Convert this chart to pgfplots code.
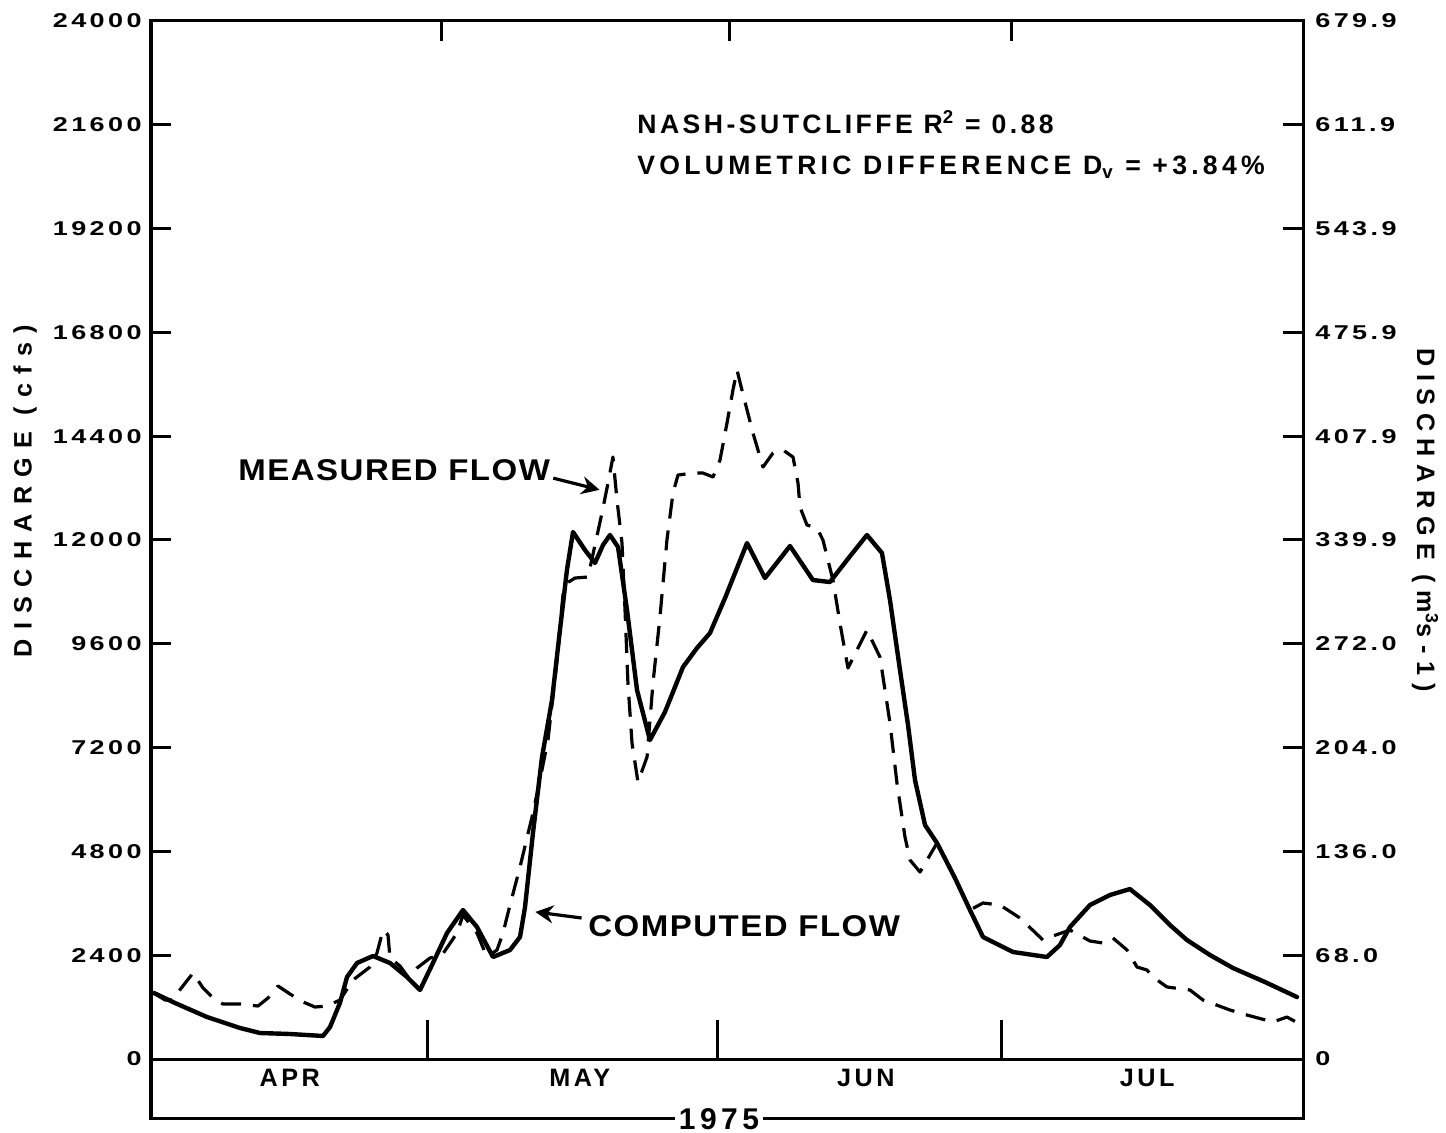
\documentclass[border=0pt]{standalone}
\usepackage{pgfplots}
\pgfplotsset{compat=1.18}
\usepackage{fontspec}
\setmainfont{Liberation Sans}
\newfontfamily\fTick{Liberation Sans}[LetterSpace=17, FakeStretch=1.35]
\newfontfamily\fMonth{Liberation Sans}[LetterSpace=14]
\newfontfamily\fLab{Liberation Sans}[LetterSpace=37]
\newfontfamily\fLabR{Liberation Sans}[LetterSpace=30]
\newfontfamily\fAnn{Liberation Sans}[LetterSpace=5, FakeStretch=1.1]
\newfontfamily\fStat{Liberation Sans}[LetterSpace=13]
\newfontfamily\fStatB{Liberation Sans}[LetterSpace=16]
\newfontfamily\fYear{Liberation Sans}[LetterSpace=15]
\usetikzlibrary{arrows.meta}
\begin{document}
\begin{tikzpicture}
\useasboundingbox (-75.5bp,-7.5bp) rectangle (647.5bp,559bp);
\begin{axis}[
  scale only axis, width=576bp, height=548.5bp,
  xmin=0, xmax=122, ymin=-1364, ymax=24000,
  axis line style={line width=1.5bp},
  tick style={line width=1.5bp, black},
  tick align=inside, major tick length=10bp,
  ytick={0,2400,4800,7200,9600,12000,14400,16800,19200,21600,24000},
  yticklabels={0,2400,4800,7200,9600,12000,14400,16800,19200,21600,24000},
  ytick pos=left,
  yticklabel style={font=\fontsize{10bp}{12bp}\selectfont\fTick\bfseries, inner xsep=4.5bp, inner ysep=0pt, anchor=east},
  xtick={14.7,45.4,75.7,105.5},
  xticklabels={APR,MAY,JUN,JUL},
  xtick pos=left,
  xtick style={draw=none},
  xticklabel style={font=\fontsize{12.6bp}{14bp}\selectfont\fMonth\bfseries, anchor=center, yshift=20bp},
]
\draw[line width=1.5bp] (axis cs:0,0) -- (axis cs:122,0);
\draw[line width=1.5bp] (axis cs:29.3,0) -- ++(0,-10bp);
\draw[line width=1.5bp] (axis cs:60.0,0) -- ++(0,-10bp);
\draw[line width=1.5bp] (axis cs:90.1,0) -- ++(0,-10bp);

% computed flow
\addplot[black, line width=2.2bp, line join=round, line cap=round] coordinates {
(0.32,1526)(2.54,1295)(5.93,971)(9.42,717)(11.54,601)(14.72,578)(18.22,532)(18.96,740)(20.01,1295)(20.76,1896)(21.82,2220)(23.51,2381)(25.31,2220)(27.11,1896)(28.49,1595)(29.86,2220)(31.35,2913)(33.04,3445)(34.52,3052)(36.22,2358)(38.02,2520)(39.08,2821)(39.61,3514)(40.45,5225)(41.41,6982)(42.47,8300)(43.31,9918)(44.05,11306)(44.69,12184)(45.96,11768)(47.02,11468)(47.87,11884)(48.61,12115)(49.46,11837)(50.41,10381)(51.47,8531)(52.84,7375)(54.43,8023)(56.34,9063)(57.82,9502)(59.20,9849)(60.79,10658)(63.12,11930)(65.02,11121)(67.67,11861)(70.10,11074)(71.90,11028)(73.71,11537)(75.82,12115)(77.41,11699)(78.26,10612)(79.32,8994)(80.17,7722)(80.91,6450)(81.97,5410)(83.24,4994)(85.14,4185)(86.73,3445)(88.11,2821)(91.29,2474)(94.88,2358)(96.26,2636)(97.32,3052)(99.44,3560)(101.56,3792)(103.67,3930)(105.79,3560)(107.91,3098)(109.71,2751)(112.15,2404)(114.58,2104)(117.97,1780)(121.36,1433)
};
% measured flow
\addplot[black, line width=1.6bp, dash pattern=on 10bp off 6bp, line join=round] coordinates {
(0.32,1526)(1.48,1364)(2.22,1364)(4.45,1988)(5.51,1642)(6.57,1410)(7.62,1272)(9.42,1272)(11.33,1225)(12.39,1410)(13.45,1688)(14.72,1503)(16.10,1318)(17.37,1202)(18.64,1225)(20.01,1364)(21.39,1826)(23.19,2127)(23.93,2451)(24.57,2982)(25.10,2867)(25.31,2335)(26.37,2150)(27.22,1896)(28.17,2104)(29.55,2335)(30.82,2404)(32.41,2913)(33.04,3329)(34.52,2913)(35.58,2358)(36.64,2520)(37.28,2913)(38.02,3560)(39.08,4439)(40.35,5595)(41.19,6450)(42.04,7375)(43.00,9225)(43.63,10728)(44.05,11005)(44.90,11121)(46.28,11144)(47.76,12624)(48.40,13317)(48.92,13918)(49.35,12924)(49.88,11930)(50.20,10381)(50.51,8693)(50.94,7306)(51.57,6404)(52.53,6982)(53.16,8693)(53.90,10219)(54.64,12000)(55.28,13086)(55.81,13502)(57.40,13548)(58.46,13548)(59.52,13456)(60.26,13849)(61.00,14704)(61.63,15467)(62.06,15930)(62.58,15467)(63.75,14473)(64.81,13687)(65.87,14011)(66.93,14080)(67.99,13918)(68.52,13317)(68.73,12762)(69.47,12346)(70.53,12277)(71.16,12000)(71.69,11537)(72.22,11074)(72.96,10080)(73.81,9040)(75.82,9918)(77.20,9294)(77.73,8531)(78.26,7768)(79.00,6381)(79.85,5133)(80.38,4601)(81.44,4323)(83.24,4994)(85.14,4185)(86.73,3445)(88.11,3607)(89.91,3560)(92.03,3260)(94.46,2751)(95.52,2844)(97.32,2982)(99.44,2728)(100.82,2682)(101.87,2798)(103.36,2520)(104.42,2127)(105.47,2058)(106.11,1896)(107.59,1665)(110.03,1595)(111.41,1364)(114.26,1133)(116.06,1017)(118.82,855)(120.30,971)(121.47,832)
};

\node[anchor=west, inner sep=0pt, font=\fontsize{15bp}{17bp}\selectfont\fAnn\bfseries] at (axis cs:9.21,13620) {MEASURED FLOW};
\draw[line width=1.6bp, -{Stealth[length=9bp, width=9bp, inset=3bp]}] (axis cs:42.6,13430) -- (axis cs:47.5,13160);
\node[anchor=west, inner sep=0pt, font=\fontsize{15bp}{17bp}\selectfont\fAnn\bfseries] at (axis cs:46.28,3075) {COMPUTED FLOW};
\draw[line width=1.6bp, -{Stealth[length=9bp, width=9bp, inset=3bp]}] (axis cs:45.6,3260) -- (axis cs:40.7,3400);

\node[anchor=west, inner sep=0pt, font=\fontsize{13.3bp}{15bp}\selectfont\fStat\bfseries] at (axis cs:51.47,21663) {NASH-SUTCLIFFE R\textsuperscript{2} = 0.88};
\node[anchor=west, inner sep=0pt, font=\fontsize{13.3bp}{15bp}\selectfont\fStatB\bfseries] at (axis cs:51.47,20623) {VOLUMETRIC DIFFERENCE D\textsubscript{v} = +3.84\%};
\end{axis}
\begin{axis}[
  scale only axis, width=576bp, height=548.5bp,
  xmin=0, xmax=122, ymin=-1364, ymax=24000,
  axis line style={line width=1.5bp},
  tick style={line width=1.5bp, black},
  tick align=inside, major tick length=10bp,
  ytick={0,2400,4800,7200,9600,12000,14400,16800,19200,21600,24000},
  yticklabels={0,68.0,136.0,204.0,272.0,339.9,407.9,475.9,543.9,611.9,679.9},
  ytick pos=right, yticklabel pos=right,
  yticklabel style={font=\fontsize{10bp}{12bp}\selectfont\fTick\bfseries, inner xsep=6bp, inner ysep=0pt, anchor=west},
  xtick={30.8,61.3,91.1},
  xticklabels={,,},
  xtick pos=right,
]
\addplot[draw=none] coordinates {(0,0)(122,0)};
\end{axis}
\node[rotate=90, font=\fontsize{12.6bp}{14bp}\selectfont\fLab\bfseries] at (-63bp,313.5bp) {DISCHARGE (cfs)};
\node[rotate=-90, font=\fontsize{12.6bp}{14bp}\selectfont\fLabR\bfseries] at (637bp,299bp) {DISCHARGE (m\textsuperscript{3}s-1)};
\node[fill=white, inner xsep=2bp, inner ysep=0pt, font=\fontsize{15bp}{17bp}\selectfont\fYear\bfseries] at (284bp,-0.5bp) {1975};
\end{tikzpicture}
\end{document}
